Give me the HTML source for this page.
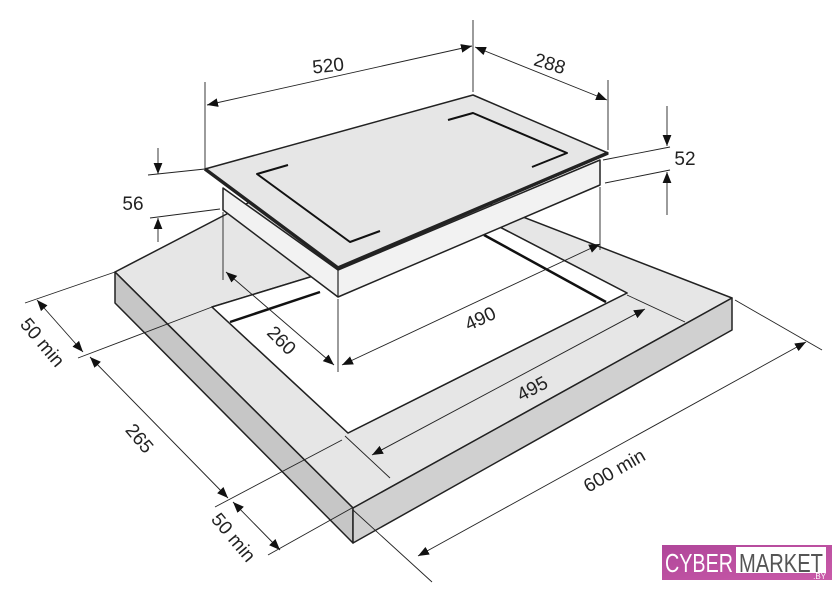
<!DOCTYPE html>
<html><head><meta charset="utf-8"><style>
html,body{margin:0;padding:0;background:#fff;}
svg{display:block;}
text{font-family:"Liberation Sans",sans-serif;fill:#222;font-size:19px;}
</style></head><body>
<svg width="840" height="607" viewBox="0 0 840 607" xmlns="http://www.w3.org/2000/svg">
<defs>
<marker id="a" viewBox="0 0 10 10" refX="10" refY="5" markerWidth="11" markerHeight="11" markerUnits="userSpaceOnUse" orient="auto-start-reverse"><path d="M0,1 L10,5 L0,9 z" fill="#111"/></marker>
<linearGradient id="mg" x1="0" y1="0" x2="1" y2="1"><stop offset="0" stop-color="#b0469a"/><stop offset="1" stop-color="#c95aa8"/></linearGradient>
</defs>
<g stroke-linejoin="round">
<path d="M115,272 L350,150 L732,298 L353,508 Z M212,307 L348,433 L627,293 L490,222 Z" fill="#e6e6e6" fill-rule="evenodd" stroke="#222" stroke-width="1.5"/>
<path d="M115,272 L353,508 L353,543 L115,303 Z" fill="#c6c6c6" stroke="#222" stroke-width="1.5"/>
<path d="M353,508 L732,298 L732,330 L353,543 Z" fill="#d0d0d0" stroke="#222" stroke-width="1.5"/>
<path d="M212,307 L348,433 L627,293 L490,222 Z" fill="#fff" stroke="#222" stroke-width="1.5"/>
<path d="M230,322 L320,292" stroke="#111" stroke-width="2.5" fill="none"/>
<path d="M484,235 L606,302" stroke="#111" stroke-width="2.5" fill="none"/>
<path d="M223,188 L338,270 L600,160 L600,185 L338,297 L223,210 Z" fill="#f2f2f2" stroke="#222" stroke-width="1.5"/>
<path d="M338,270 L338,297" stroke="#222" stroke-width="1.2"/>
<path d="M205,169 L473,95 L608,153 L338,268 Z" fill="#e6e6e6" stroke="#222" stroke-width="1.5"/>
<path d="M205,169 L338,268 L608,153" fill="none" stroke="#222" stroke-width="3.5"/>
<path d="M288,165 L257,174 L350,242 L380,231" fill="none" stroke="#111" stroke-width="2"/>
<path d="M448,120 L473,113 L567,153 L532,167" fill="none" stroke="#111" stroke-width="2"/>
</g>
<g stroke="#222" stroke-width="0.9" fill="none">
<line x1="205" y1="82" x2="205" y2="169"/>
<line x1="473" y1="20" x2="473" y2="92"/>
<line x1="608" y1="80" x2="608" y2="150"/>
<line x1="603" y1="160" x2="670" y2="147"/>
<line x1="605" y1="183" x2="670" y2="170"/>
<line x1="148" y1="175" x2="205" y2="169"/>
<line x1="150" y1="218" x2="220" y2="209"/>
<line x1="223" y1="212" x2="223" y2="280"/>
<line x1="338" y1="299" x2="338" y2="372"/>
<line x1="600" y1="187" x2="600" y2="250"/>
<line x1="25" y1="303" x2="115" y2="272"/>
<line x1="78" y1="358" x2="212" y2="307"/>
<line x1="215" y1="507" x2="342" y2="440"/>
<line x1="268" y1="555" x2="352" y2="508"/>
<line x1="345" y1="436" x2="390" y2="478"/>
<line x1="627" y1="295" x2="685" y2="322"/>
<line x1="353" y1="510" x2="432" y2="582"/>
<line x1="735" y1="300" x2="822" y2="350"/>
<line x1="207" y1="105" x2="472" y2="46" marker-start="url(#a)" marker-end="url(#a)"/>
<line x1="475" y1="47" x2="607" y2="100" marker-start="url(#a)" marker-end="url(#a)"/>
<line x1="667" y1="106" x2="667" y2="146" marker-end="url(#a)"/>
<line x1="667" y1="215" x2="667" y2="172" marker-end="url(#a)"/>
<line x1="158" y1="148" x2="158" y2="174" marker-end="url(#a)"/>
<line x1="158" y1="242" x2="158" y2="218" marker-end="url(#a)"/>
<line x1="226" y1="272" x2="334" y2="365" marker-start="url(#a)" marker-end="url(#a)"/>
<line x1="342" y1="365" x2="600" y2="244" marker-start="url(#a)" marker-end="url(#a)"/>
<line x1="372" y1="455" x2="645" y2="309" marker-start="url(#a)" marker-end="url(#a)"/>
<line x1="418" y1="556" x2="806" y2="342" marker-start="url(#a)" marker-end="url(#a)"/>
<line x1="37" y1="300" x2="83" y2="352" marker-start="url(#a)" marker-end="url(#a)"/>
<line x1="90" y1="357" x2="228" y2="498" marker-start="url(#a)" marker-end="url(#a)"/>
<line x1="233" y1="502" x2="280" y2="550" marker-start="url(#a)" marker-end="url(#a)"/>
</g>
<g text-anchor="middle">
<text x="328" y="72" transform="rotate(-6 328 65)">520</text>
<text x="550" y="70" transform="rotate(17 550 63)">288</text>
<text x="685" y="165">52</text>
<text x="133" y="210">56</text>
<text x="282" y="347" transform="rotate(45 282 340)">260</text>
<text x="480" y="325" transform="rotate(-25 480 318)">490</text>
<text x="532" y="395" transform="rotate(-28 532 388)">495</text>
<text x="614" y="477" transform="rotate(-30 614 470)">600 min</text>
<text x="43" y="349" transform="rotate(50 43 342)">50 min</text>
<text x="140" y="445" transform="rotate(50 140 438)">265</text>
<text x="234" y="544" transform="rotate(50 234 537)">50 min</text>
</g>
<rect x="662" y="545" width="170" height="35" fill="url(#mg)"/>
<rect x="736" y="547" width="90" height="26" fill="#fff"/>
<text x="699" y="572" text-anchor="middle" style="fill:#fff;font-size:26px" textLength="68" lengthAdjust="spacingAndGlyphs">CYBER</text>
<text x="781" y="572" text-anchor="middle" style="fill:#555;font-size:26px" textLength="84" lengthAdjust="spacingAndGlyphs">MARKET</text>
<text x="826" y="579" text-anchor="end" style="fill:#fff;font-size:8px">.BY</text>
</svg>
</body></html>
